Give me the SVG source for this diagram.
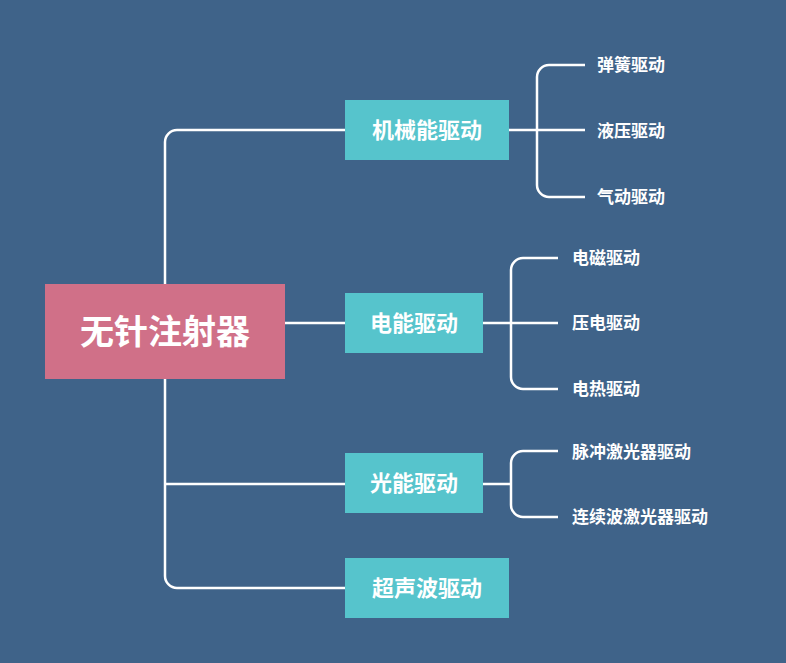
<svg xmlns="http://www.w3.org/2000/svg" width="786" height="663" viewBox="0 0 786 663">
<style>
.c{fill:none;stroke:#fff;stroke-width:2.5}
.b{fill:#56c4cc}
.t{fill:#fff;font-family:"Noto Sans CJK SC",sans-serif;font-weight:bold}
.bt{font-size:22px}
.lt{font-size:17px}
</style>
<rect width="786" height="663" fill="#3f6389"/>
<g id="connectors">
<path class="c" d="M345 130H177a12 12 0 0 0-12 12V576a12 12 0 0 0 12 12H345"/>
<path class="c" d="M165 484H345"/>
<path class="c" d="M285 323H345"/>
<path class="c" d="M509 130H537M585 65H549a12 12 0 0 0-12 12V185a12 12 0 0 0 12 12H585M537 130H585"/>
<path class="c" d="M483 323H511M558 258H523a12 12 0 0 0-12 12V377a12 12 0 0 0 12 12H558M511 323H558"/>
<path class="c" d="M483 484H511M558 451H523a12 12 0 0 0-12 12V505a12 12 0 0 0 12 12H558"/>
</g>
<g id="root"><rect x="45" y="284" width="240" height="95" fill="#d07088"/><text class="t" x="165" y="344" font-size="34" text-anchor="middle">无针注射器</text></g>
<g id="n1"><rect class="b" x="345" y="100" width="164" height="60"/><text class="t bt" x="427" y="138" text-anchor="middle">机械能驱动</text></g>
<g id="n2"><rect class="b" x="345" y="293" width="138" height="60"/><text class="t bt" x="414" y="331" text-anchor="middle">电能驱动</text></g>
<g id="n3"><rect class="b" x="345" y="453" width="138" height="60"/><text class="t bt" x="414" y="491" text-anchor="middle">光能驱动</text></g>
<g id="n4"><rect class="b" x="345" y="558" width="164" height="60"/><text class="t bt" x="427" y="596" text-anchor="middle">超声波驱动</text></g>
<g id="l1"><text class="t lt" x="597" y="71">弹簧驱动</text></g>
<g id="l2"><text class="t lt" x="597" y="137">液压驱动</text></g>
<g id="l3"><text class="t lt" x="597" y="203">气动驱动</text></g>
<g id="l4"><text class="t lt" x="572" y="264">电磁驱动</text></g>
<g id="l5"><text class="t lt" x="572" y="329">压电驱动</text></g>
<g id="l6"><text class="t lt" x="572" y="395">电热驱动</text></g>
<g id="l7"><text class="t lt" x="572" y="458">脉冲激光器驱动</text></g>
<g id="l8"><text class="t lt" x="572" y="523">连续波激光器驱动</text></g>
</svg>
